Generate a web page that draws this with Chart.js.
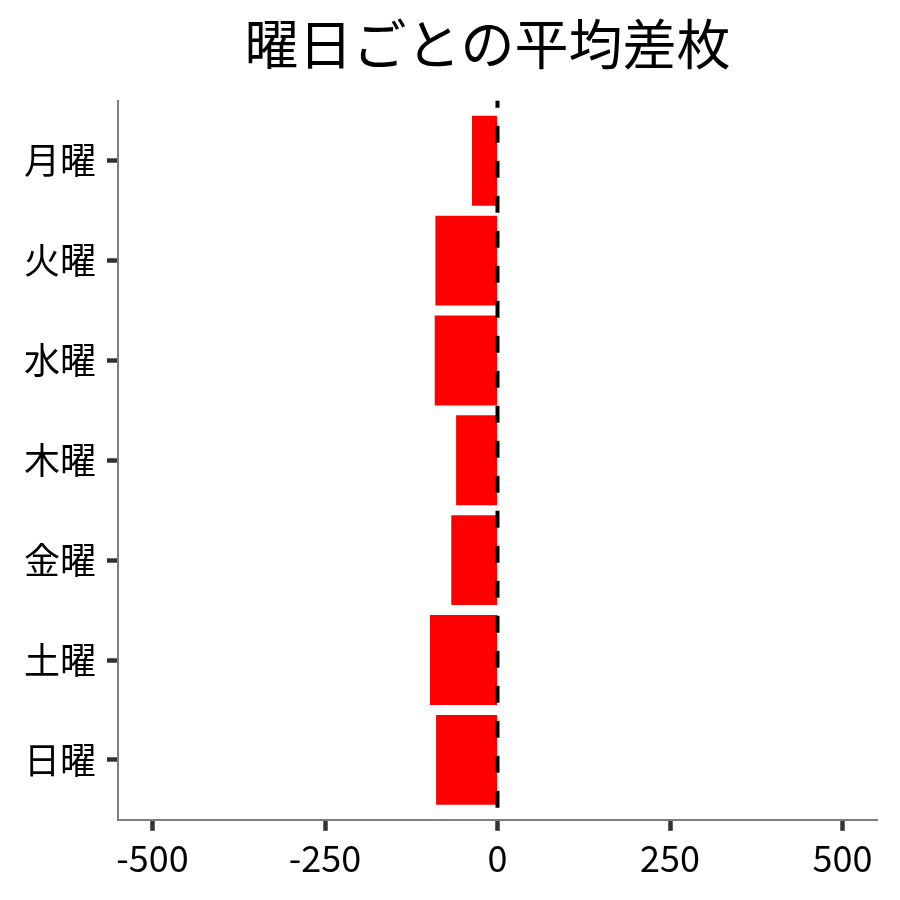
<!DOCTYPE html>
<html>
<head>
<meta charset="utf-8">
<script src="https://cdn.jsdelivr.net/npm/chart.js@4"></script>
<style>
  html, body { margin: 0; padding: 0; background: #ffffff; }
  #wrap { width: 900px; height: 900px; }
</style>
</head>
<body>
<div id="wrap"><canvas id="c" width="900" height="900"></canvas></div>
<script>
const titleText = '曜日ごとの平均差枚';
const days = ['月曜', '火曜', '水曜', '木曜', '金曜', '土曜', '日曜'];
const avgDiff = [-37, -90, -91, -60, -67, -98, -89];
const xTicks = [-500, -250, 0, 250, 500];
const xMin = -550;
const xMax = 550;

const FONT = '"Noto Sans CJK JP", "Noto Sans", sans-serif';

const zeroLine = {
  id: 'zeroLine',
  afterDatasetsDraw(chart) {
    const { ctx, chartArea, scales } = chart;
    const x = scales.x.getPixelForValue(0);
    ctx.save();
    ctx.strokeStyle = '#000000';
    ctx.lineWidth = 4;
    ctx.setLineDash([17, 18]);
    ctx.lineDashOffset = 10;
    ctx.beginPath();
    ctx.moveTo(x, chartArea.top);
    ctx.lineTo(x, chartArea.bottom);
    ctx.stroke();
    ctx.restore();
  }
};

new Chart(document.getElementById('c'), {
  type: 'bar',
  data: {
    datasets: [{
      data: days.map((d, i) => ({ y: i + 1, x: avgDiff[i] })),
      backgroundColor: '#ff0000',
      borderWidth: 0,
      barPercentage: 0.9,
      categoryPercentage: 1.0
    }]
  },
  options: {
    indexAxis: 'y',
    responsive: false,
    animation: false,
    devicePixelRatio: 1,
    layout: { padding: { top: 0, left: 98, right: 23, bottom: 14 } },
    plugins: {
      legend: { display: false },
      tooltip: { enabled: false },
      title: {
        display: true,
        text: titleText,
        color: '#000000',
        font: { family: FONT, size: 54, weight: 'normal', lineHeight: 1.2 },
        padding: { top: 12, bottom: 24 }
      }
    },
    scales: {
      x: {
        type: 'linear',
        min: xMin,
        max: xMax,
        offset: false,
        afterBuildTicks: (s) => { s.ticks = xTicks.map(v => ({ value: v })); },
        border: { display: true, color: '#7f7f7f', width: 2 },
        grid: { display: true, offset: false, drawOnChartArea: false, drawTicks: true, tickLength: 11, tickWidth: 4.5, tickColor: '#333333' },
        ticks: {
          color: '#000000',
          padding: 6,
          maxRotation: 0,
          font: { family: FONT, size: 36 },
          callback: (v) => String(v)
        }
      },
      y: {
        type: 'linear',
        reverse: true,
        min: 0.4,
        max: 7.6,
        offset: false,
        afterBuildTicks: (s) => { s.ticks = days.map((d, i) => ({ value: i + 1 })); },
        afterFit: (s) => { s.width = 20; },
        border: { display: true, color: '#7f7f7f', width: 2 },
        grid: { display: true, offset: false, drawOnChartArea: false, drawTicks: true, tickLength: 11, tickWidth: 4.5, tickColor: '#333333' },
        ticks: {
          color: '#000000',
          mirror: true,
          crossAlign: 'near',
          padding: -94,
          font: { family: FONT, size: 36 },
          callback: (v) => days[Math.round(v) - 1] || ''
        }
      }
    }
  },
  plugins: [zeroLine]
});
</script>
</body>
</html>
